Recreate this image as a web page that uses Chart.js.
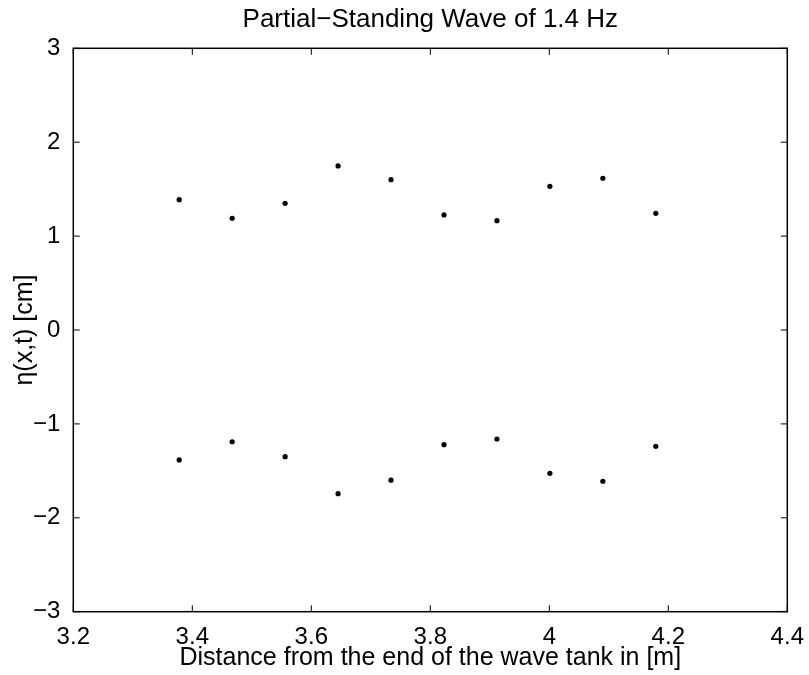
<!DOCTYPE html>
<html>
<head>
<meta charset="utf-8">
<title>Partial-Standing Wave of 1.4 Hz</title>
<script src="https://cdn.jsdelivr.net/npm/chart.js@4.4.1/dist/chart.umd.min.js"></script>
<style>
  html, body { margin: 0; padding: 0; background: #fff; }
  #wrap { width: 809px; height: 675px; }
</style>
</head>
<body>
<div id="wrap"><canvas id="waveChart" width="809" height="675"></canvas></div>
<script>
// distance from the end of the tank [m]
var distance = [3.378, 3.467, 3.556, 3.645, 3.734, 3.823, 3.912, 4.001, 4.090, 4.179];
// crest / trough envelope of eta [cm]
var etaUpper = [1.388, 1.190, 1.349, 1.747, 1.601, 1.225, 1.164, 1.530, 1.616, 1.243];
var etaLower = [-1.384, -1.190, -1.349, -1.743, -1.599, -1.221, -1.161, -1.526, -1.611, -1.239];
// tick labels
var xTicks = [3.2, 3.4, 3.6, 3.8, 4, 4.2, 4.4];
var yTicks = [-3, -2, -1, 0, 1, 2, 3];

var fontFam = "'Liberation Sans', Arial, Helvetica, sans-serif";
var tickLen = 6.5;

function toPoints(xs, ys) {
  var out = [];
  for (let i = 0; i < xs.length; i++) {
    out.push({ x: xs[i], y: ys[i] });
  }
  return out;
}

function fmt(v) {
  // matlab style minus sign
  return String(v).replace("-", "\u2212");
}

// box around the axes with inward ticks on all four sides
var matlabBox = {
  id: "matlabBox",
  afterDraw(chart) {
    const ctx = chart.ctx;
    const a = chart.chartArea;
    const sx = chart.scales.x;
    const sy = chart.scales.y;
    ctx.save();
    ctx.strokeStyle = "#000";
    ctx.lineWidth = 1;
    ctx.beginPath();
    sx.ticks.forEach((t) => {
      const px = sx.getPixelForValue(t.value);
      ctx.moveTo(px, a.bottom);
      ctx.lineTo(px, a.bottom - tickLen);
      ctx.moveTo(px, a.top);
      ctx.lineTo(px, a.top + tickLen);
    });
    sy.ticks.forEach((t) => {
      const py = sy.getPixelForValue(t.value);
      ctx.moveTo(a.left, py);
      ctx.lineTo(a.left + tickLen, py);
      ctx.moveTo(a.right, py);
      ctx.lineTo(a.right - tickLen, py);
    });
    ctx.stroke();
    ctx.lineWidth = 1.5;
    ctx.strokeRect(a.left, a.top, a.right - a.left, a.bottom - a.top);
    ctx.restore();
  },
};

var data = {
  datasets: [
    {
      label: "upper",
      data: toPoints(distance, etaUpper),
      backgroundColor: "#000",
      borderWidth: 0,
      pointRadius: 2.6,
    },
    {
      label: "lower",
      data: toPoints(distance, etaLower),
      backgroundColor: "#000",
      borderWidth: 0,
      pointRadius: 2.6,
    },
  ],
};

var config = {
  type: "scatter",
  data: data,
  plugins: [matlabBox],
  options: {
    responsive: false,
    animation: false,
    layout: { padding: { left: 0, right: 21.7, top: 0, bottom: 0 } },
    plugins: {
      legend: { display: false },
      tooltip: { enabled: false },
      title: {
        display: true,
        fullSize: false,
        text: "Partial\u2212Standing Wave of 1.4 Hz",
        color: "#000",
        font: { family: fontFam, size: 26, weight: "normal" },
        padding: { top: 4.6, bottom: 12.5 },
      },
    },
    scales: {
      x: {
        type: "linear",
        min: 3.2,
        max: 4.4,
        grid: { display: false },
        border: { display: false },
        afterBuildTicks: (s) => { s.ticks = xTicks.map((v) => ({ value: v })); },
        afterFit: (s) => { s.height = 63.3; },
        ticks: {
          color: "#000",
          padding: 3,
          maxRotation: 0,
          autoSkip: false,
          font: { family: fontFam, size: 24 },
          callback: (v) => fmt(v),
        },
        title: {
          display: true,
          text: "Distance from the end of the wave tank in [m]",
          color: "#000",
          font: { family: fontFam, size: 25 },
          padding: { top: 0, bottom: 1.75 },
        },
      },
      y: {
        type: "linear",
        min: -3,
        max: 3,
        grid: { display: false },
        border: { display: false },
        afterBuildTicks: (s) => { s.ticks = yTicks.map((v) => ({ value: v })); },
        afterFit: (s) => { s.width = 73.3; },
        ticks: {
          color: "#000",
          padding: 5,
          font: { family: fontFam, size: 24 },
          callback: (v) => fmt(v),
        },
        title: {
          display: true,
          text: "\u03b7(x,t) [cm]",
          color: "#000",
          font: { family: fontFam, size: 25 },
          padding: { top: 10, bottom: 0 },
        },
      },
    },
  },
};

var waveChart = new Chart(document.getElementById("waveChart"), config);
</script>
</body>
</html>
